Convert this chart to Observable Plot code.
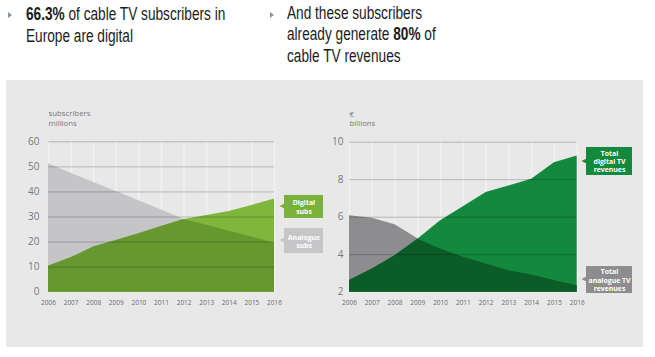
<!DOCTYPE html>
<html><head><meta charset="utf-8">
<script src="https://cdn.jsdelivr.net/npm/d3@7"></script>
<script src="https://cdn.jsdelivr.net/npm/@observablehq/plot@0.6"></script>
<style>
html,body{margin:0;padding:0;background:#fff;}
#root{position:relative;width:655px;height:357px;overflow:hidden;font-family:"Liberation Sans",Arial,sans-serif;}
.bullet{position:absolute;width:0;height:0;border-top:3.2px solid transparent;border-bottom:3.2px solid transparent;border-left:4.2px solid #8796a2;}
.head{position:absolute;font-size:17.5px;line-height:21.5px;color:#1b1b1b;transform:scaleX(0.78);transform-origin:0 0;white-space:nowrap;}
.head b{font-weight:bold;}
#panel{position:absolute;left:6px;top:80px;width:637px;height:267px;background:#e8e8e9;}
.chart{position:absolute;top:100px;}
.chart svg{overflow:visible;}
</style></head>
<body><div id="root">
<div class="bullet" style="left:8px;top:12.4px"></div>
<div class="head" id="h1" style="left:26px;top:4.2px"></div>
<div class="bullet" style="left:270.4px;top:12.4px"></div>
<div class="head" id="h2" style="left:287px;top:2.5px"></div>
<div id="panel"></div>
<div class="chart" id="c1" style="left:0px"></div>
<div class="chart" id="c2" style="left:325px"></div>
</div>
<script>
// ---- data ----
const years = [2006, 2007, 2008, 2009, 2010, 2011, 2012, 2013, 2014, 2015, 2016];
const subsAnalogue = [51.2, 47.5, 43.8, 40.2, 36.5, 32.8, 29.0, 26.7, 24.3, 22.0, 19.5];
const subsDigital  = [10.4, 13.7, 18.0, 20.6, 23.3, 26.2, 29.0, 30.6, 32.2, 34.6, 37.2];
const revAnalogue  = [6.08, 5.95, 5.60, 4.85, 4.30, 3.86, 3.50, 3.15, 2.92, 2.62, 2.35];
const revDigital   = [2.62, 3.24, 3.95, 4.82, 5.81, 6.56, 7.32, 7.67, 8.03, 8.91, 9.27];
const subsTicks = [0, 10, 20, 30, 40, 50, 60];
const revTicks = [2, 4, 6, 8, 10];
const subsTitle = ["subscribers", "millions"];
const revTitle = ["€", "billions"];
const subsLabels = {digital: "Digital\nsubs", analogue: "Analogue\nsubs"};
const revLabels = {digital: "Total\ndigital TV\nrevenues", analogue: "Total\nanalogue TV\nrevenues"};
const headLeft = ["<b>66.3%</b> of cable TV subscribers in", "Europe are digital"];
const headRight = ["And these subscribers", "already generate <b>80%</b> of", "cable TV revenues"];

document.getElementById("h1").innerHTML = headLeft.join("<br>");
document.getElementById("h2").innerHTML = headRight.join("<br>");

function callout(row, field, {dx, dy, w, h, fill, text}) {
  const pos = {x1: "year", x2: "year", y1: field, y2: field};
  return [
    Plot.rect([row], {...pos, fill, insetLeft: dx, insetRight: -(dx + w), insetTop: dy - h / 2, insetBottom: -(dy + h / 2)}),
    Plot.text([row], {x: "year", y: field, text: () => "◀", dx: dx + 0.8, dy: dy - 1, textAnchor: "end", fill, fontSize: 7.5, fontFamily: "DejaVu Sans"}),
    Plot.text([row], {x: "year", y: field, text: () => text, dx: dx + w / 2, dy, fill: "#fff", fontWeight: "bold", fontSize: 6.9, lineHeight: 1.2})
  ];
}

function makeChart({analogue, digital, ticks, title, labels, colors, margins, boxes}) {
  const rows = years.map((year, i) => ({year, analogue: analogue[i], digital: digital[i]}));
  const base = ticks[0];
  const last = rows[rows.length - 1];
  return Plot.plot({
    width: 330, height: 215,
    ...margins,
    x: {domain: [years[0], years[years.length - 1]], axis: null},
    y: {domain: [ticks[0], ticks[ticks.length - 1]], axis: null},
    style: {background: "transparent", fontFamily: "'Open Sans', sans-serif", overflow: "visible"},
    marks: [
      Plot.ruleX(years, {x: d => d, stroke: "#f2f2f3", strokeWidth: 1.5}),
      Plot.area(rows, {x1: "year", y1: () => base, y2: "analogue", fill: colors.analogue}),
      Plot.area(rows, {x1: "year", y1: () => base, y2: "digital", fill: colors.digital}),
      Plot.area(rows, {x1: "year", y1: () => base, y2: d => Math.min(d.analogue, d.digital), fill: colors.both}),
      Plot.ruleY(ticks.slice(1), {y: d => d, stroke: "#000", strokeOpacity: 0.22, strokeWidth: 1}),
      Plot.text(ticks, {y: d => d, text: d => String(d), frameAnchor: "left", textAnchor: "end", lineAnchor: "middle", dx: margins.yPad, fontSize: 10, fill: "#77787a"}),
      Plot.text(years, {x: d => d, text: d => String(d), frameAnchor: "bottom", lineAnchor: "middle", dy: 11, fontSize: 6.5, fill: "#6a6b6d"}),
      Plot.text([title[0]], {text: d => d, frameAnchor: "top-left", textAnchor: "start", lineAnchor: "middle", dy: -28, fontSize: 7.8, fill: "#77787a"}),
      Plot.text([title[1]], {text: d => d, frameAnchor: "top-left", textAnchor: "start", lineAnchor: "middle", dy: -18.6, fontSize: 7.8, fill: "#77787a"}),
      ...callout(last, "digital", {...boxes.digital, fill: colors.digitalBox, text: labels.digital}),
      ...callout(last, "analogue", {...boxes.analogue, fill: colors.analogueBox, text: labels.analogue})
    ]
  });
}

document.getElementById("c1").append(makeChart({
  analogue: subsAnalogue, digital: subsDigital, ticks: subsTicks, title: subsTitle, labels: subsLabels,
  colors: {analogue: "#c5c5c7", digital: "#7fb73d", both: "#66982f", digitalBox: "#79b13a", analogueBox: "#c6c6c8"},
  margins: {marginLeft: 48, marginRight: 56, marginTop: 41.3, marginBottom: 23.3, yPad: -9},
  boxes: {digital: {dx: 10, dy: 8, w: 39, h: 23}, analogue: {dx: 10, dy: -2.3, w: 39, h: 25}}
}));

document.getElementById("c2").append(makeChart({
  analogue: revAnalogue, digital: revDigital, ticks: revTicks, title: revTitle, labels: revLabels,
  colors: {analogue: "#8d8d8f", digital: "#13893e", both: "#0b5c27", digitalBox: "#13893e", analogueBox: "#8d8d8f"},
  margins: {marginLeft: 24, marginRight: 78.3, marginTop: 41.7, marginBottom: 23.3, yPad: -6},
  boxes: {digital: {dx: 9.3, dy: 5.6, w: 46, h: 28}, analogue: {dx: 9.3, dy: -5.6, w: 46, h: 27}}
}));
</script>
</body></html>
